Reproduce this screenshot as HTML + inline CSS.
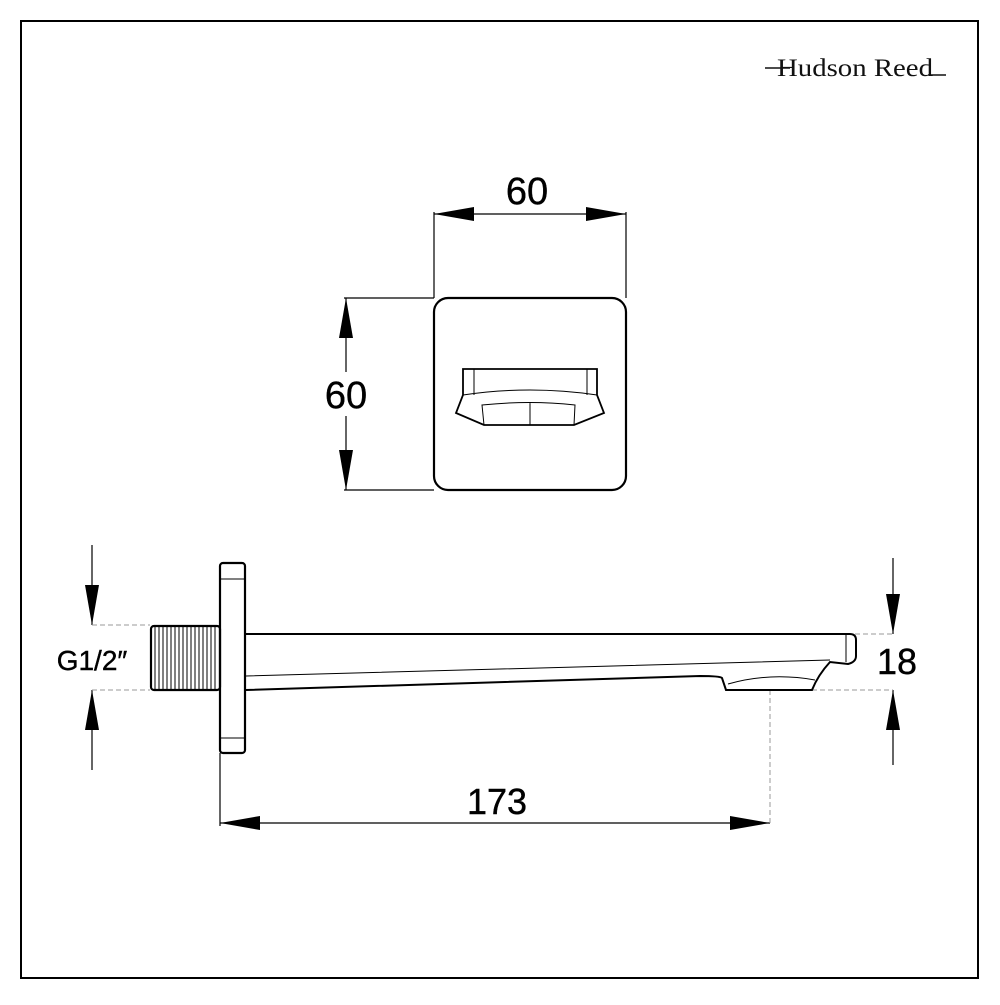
<!DOCTYPE html>
<html><head><style>html,body{margin:0;padding:0;background:#fff}</style></head><body>
<svg width="1000" height="1000" viewBox="0 0 1000 1000" xmlns="http://www.w3.org/2000/svg">
<defs>
<marker id="a" viewBox="0 0 40 14" refX="40" refY="7" markerWidth="40" markerHeight="14" markerUnits="userSpaceOnUse" orient="auto-start-reverse"><path d="M0,0 L40,7 L0,14 Z" fill="#000"/></marker>
</defs>
<rect x="21" y="21" width="957" height="957" fill="none" stroke="#000" stroke-width="2"/>
<g stroke="#000" fill="none" stroke-width="1.2">
<line x1="434" y1="212" x2="434" y2="298"/><line x1="626" y1="212" x2="626" y2="298"/>
<line x1="434" y1="214" x2="626" y2="214" marker-start="url(#a)" marker-end="url(#a)"/>
<line x1="344" y1="298" x2="434" y2="298"/><line x1="344" y1="490" x2="434" y2="490"/>
<line x1="346" y1="298" x2="346" y2="490" marker-start="url(#a)" marker-end="url(#a)"/>
<line x1="220" y1="753" x2="220" y2="826"/>
<line x1="220" y1="823" x2="770" y2="823" marker-start="url(#a)" marker-end="url(#a)"/>
<line x1="92" y1="545" x2="92" y2="625" marker-end="url(#a)"/>
<line x1="92" y1="770" x2="92" y2="690" marker-end="url(#a)"/>
<line x1="893" y1="558" x2="893" y2="634" marker-end="url(#a)"/>
<line x1="893" y1="765" x2="893" y2="690" marker-end="url(#a)"/>
</g>
<g fill="#fff">
<rect x="318" y="372" width="56" height="44"/>
<rect x="50" y="644" width="88" height="34"/>
</g>
<g font-family="Liberation Sans, sans-serif" fill="#000" stroke="#000" stroke-width="0.4">
<text x="527" y="204" font-size="38" text-anchor="middle">60</text>
<text x="346" y="408" font-size="38" text-anchor="middle">60</text>
<text x="92" y="670" font-size="28" text-anchor="middle">G1/2″</text>
<text x="897" y="674" font-size="36" text-anchor="middle">18</text>
<text x="497" y="814" font-size="36" text-anchor="middle">173</text>
</g>
<text x="777" y="76" font-family="Liberation Serif, serif" font-size="25" fill="#111" textLength="156" lengthAdjust="spacingAndGlyphs">Hudson Reed</text>
<line x1="765" y1="68" x2="790" y2="68" stroke="#111" stroke-width="1.6"/>
<line x1="928" y1="75" x2="946" y2="75" stroke="#111" stroke-width="1.6"/>
<g stroke="#999" stroke-width="1" stroke-dasharray="5,3" fill="none">
<line x1="92" y1="625" x2="150" y2="625"/><line x1="92" y1="690" x2="150" y2="690"/>
<line x1="855" y1="634" x2="893" y2="634"/><line x1="812" y1="690" x2="893" y2="690"/>
<line x1="770" y1="690" x2="770" y2="823"/>
</g>
<g stroke="#000" fill="none" stroke-width="2.2">
<rect x="434" y="298" width="192" height="192" rx="14"/>
<path d="M463,369 H597 V395 L604,413 L574,425 H484 L456,413 L463,395 Z" stroke-width="1.8"/>
<path d="M474,369 V395 M587,369 V395 M463,395 Q530,385 597,395 M484,425 L482,405 Q530,400 575,405 L574,425 M530,403 V425" stroke-width="1"/>
<rect x="220" y="563" width="25" height="190" rx="3"/>
<line x1="220" y1="579" x2="245" y2="579" stroke-width="1"/><line x1="220" y1="738" x2="245" y2="738" stroke-width="1"/>
<rect x="151" y="626" width="69" height="64" rx="3"/>
<path d="M246,634 H850 Q856,634 856,640 V656 Q856,662 848,664 L830,662 Q818,675 812,690 H726 L722,678 Q720,676 700,676 L246,690" stroke-width="2"/>
<path d="M246,676 L830,660 M846,634 V662 M728,684 Q770,672 815,680" stroke-width="1"/>
</g>
<g stroke="#000" stroke-width="1">
<path d="M155,627V689M159,627V689M163,627V689M167,627V689M171,627V689M175,627V689M179,627V689M183,627V689M187,627V689M191,627V689M195,627V689M199,627V689M203,627V689M207,627V689M211,627V689M215,627V689"/>
</g>
</svg>
</body></html>
